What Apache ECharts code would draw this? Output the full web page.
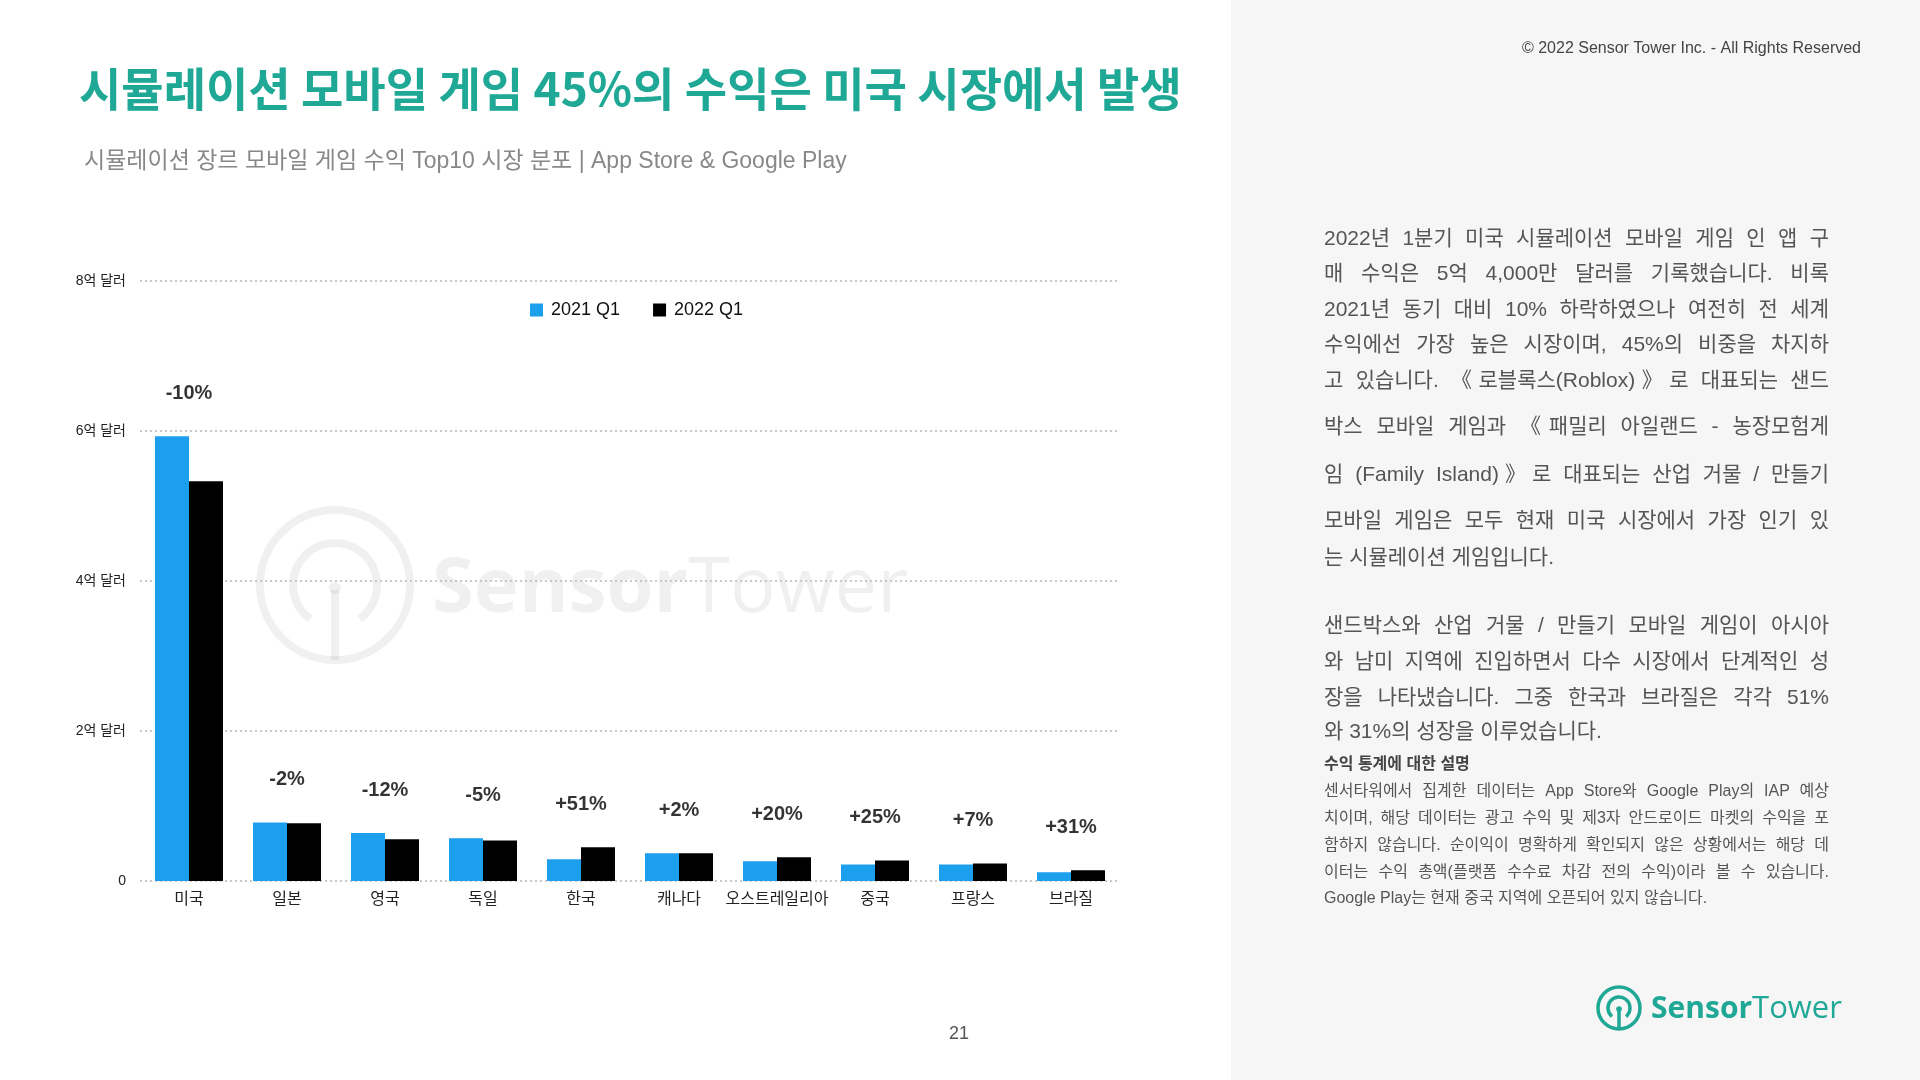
<!DOCTYPE html>
<html>
<head>
<meta charset="utf-8">
<script src="https://cdn.jsdelivr.net/npm/echarts@6/dist/echarts.min.js"></script>
<style>
  html, body { margin: 0; padding: 0; background: #fff; }
  #page { position: relative; width: 1920px; height: 1080px; overflow: hidden; background: #fff; }
  #side { position: absolute; left: 1231px; top: 0; width: 689px; height: 1080px; background: #f6f6f6; }
  #chart { position: absolute; left: 0; top: 0; width: 1920px; height: 1080px; }
  .ln { position: absolute; left: 1324px; width: 505px; white-space: nowrap;
        font-family: "Liberation Sans", "Noto Sans CJK KR", sans-serif; color: #555;
        text-align: justify; text-align-last: justify; }
  .big { font-size: 21px; height: 30px; line-height: 30px; }
  .small { font-size: 16px; height: 22px; line-height: 22px; }
  .last { text-align-last: left; }
  .head { font-weight: bold; color: #444; }
</style>
</head>
<body>
<div id="page">
  <div id="side"></div>
  <div id="chart"></div>
  <div id="text"></div>
</div>
<script>
// 시뮬레이션 장르 모바일 게임 수익 Top10 (단위: 억 달러)
const categories = ['미국', '일본', '영국', '독일', '한국', '캐나다', '오스트레일리아', '중국', '프랑스', '브라질']
const q2021 = [5.93, 0.78, 0.64, 0.57, 0.29, 0.37, 0.265, 0.22, 0.22, 0.116]
const q2022 = [5.33, 0.77, 0.556, 0.54, 0.45, 0.37, 0.317, 0.275, 0.235, 0.143]
const changes = ['-10%', '-2%', '-12%', '-5%', '+51%', '+2%', '+20%', '+25%', '+7%', '+31%']
const seriesNames = ['2021 Q1', '2022 Q1']
const unit = '억 달러'

// 오른쪽 설명 텍스트 (줄 단위)
const para1 = [
  '2022년 1분기 미국 시뮬레이션 모바일 게임 인 앱 구',
  '매 수익은 5억 4,000만 달러를 기록했습니다. 비록',
  '2021년 동기 대비 10% 하락하였으나 여전히 전 세계',
  '수익에선 가장 높은 시장이며, 45%의 비중을 차지하',
  '고 있습니다. 《로블록스(Roblox)》로 대표되는 샌드',
  '박스 모바일 게임과 《패밀리 아일랜드 - 농장모험게',
  '임 (Family Island)》로 대표되는 산업 거물 / 만들기',
  '모바일 게임은 모두 현재 미국 시장에서 가장 인기 있',
  '는 시뮬레이션 게임입니다.'
]
const para2 = [
  '샌드박스와 산업 거물 / 만들기 모바일 게임이 아시아',
  '와 남미 지역에 진입하면서 다수 시장에서 단계적인 성',
  '장을 나타냈습니다. 그중 한국과 브라질은 각각 51%',
  '와 31%의 성장을 이루었습니다.'
]
const noteTitle = '수익 통계에 대한 설명'
const note = [
  '센서타워에서 집계한 데이터는 App Store와 Google Play의 IAP 예상',
  '치이며, 해당 데이터는 광고 수익 및 제3자 안드로이드 마켓의 수익을 포',
  '함하지 않습니다. 순이익이 명확하게 확인되지 않은 상황에서는 해당 데',
  '이터는 수익 총액(플랫폼 수수료 차감 전의 수익)이라 볼 수 있습니다.',
  'Google Play는 현재 중국 지역에 오픈되어 있지 않습니다.'
]

// 라벨 위치용: 두 막대 중 높은 값
const maxVals = q2021.map((v, i) => Math.max(v, q2022[i]))

// 텍스트 줄 배치
const text = document.getElementById('text')
function addLine(str, y, cls) {
  const d = document.createElement('div')
  d.className = 'ln ' + cls
  d.textContent = str
  const h = cls.indexOf('small') >= 0 ? 22 : 30
  d.style.top = (y - h / 2) + 'px'
  text.appendChild(d)
}
const p1Y = [238, 273, 309, 344, 380, 426, 474, 520, 557]
para1.forEach((s, i) => addLine(s, p1Y[i], 'big' + (i == para1.length - 1 ? ' last' : '')))
const p2Y = [625, 661, 697, 731]
para2.forEach((s, i) => addLine(s, p2Y[i], 'big' + (i == para2.length - 1 ? ' last' : '')))
addLine(noteTitle, 764, 'small head last')
const nY = [791, 818, 845, 872, 898]
note.forEach((s, i) => addLine(s, nY[i], 'small' + (i == note.length - 1 ? ' last' : '')))

const teal = '#1fa896'
const font = '"Liberation Sans", "Noto Sans CJK KR", sans-serif'
const chart = echarts.init(document.getElementById('chart'), null, { renderer: 'canvas' })

var option = {
  backgroundColor: 'transparent',
  animation: false,
  title: [{
    text: '시뮬레이션 모바일 게임 45%의 수익은 미국 시장에서 발생',
    left: 74,
    top: 55,
    textStyle: { fontFamily: '"Noto Sans CJK KR", sans-serif', fontSize: 46, fontWeight: 'bold', color: teal, lineHeight: 58 }
  }, {
    text: '시뮬레이션 장르 모바일 게임 수익 Top10 시장 분포 | App Store & Google Play',
    left: 79,
    top: 142,
    textStyle: { fontFamily: font, fontSize: 23, fontWeight: 'normal', color: '#888', lineHeight: 30 }
  }],
  legend: {
    data: seriesNames,
    left: 525,
    top: 296,
    itemWidth: 13,
    itemHeight: 13,
    itemGap: 33,
    icon: 'rect',
    textStyle: { fontFamily: font, fontSize: 18, color: '#111', padding: [0, 0, 0, 3] }
  },
  grid: { left: 140, right: 800, top: 281, bottom: 199 },
  xAxis: {
    type: 'category',
    data: categories,
    axisLine: { show: false },
    axisTick: { show: false },
    axisLabel: { interval: 0, fontFamily: font, fontSize: 16, color: '#222', margin: 11 }
  },
  yAxis: {
    type: 'value',
    min: 0,
    max: 8,
    interval: 2,
    axisLine: { show: false },
    axisTick: { show: false },
    axisLabel: {
      fontFamily: font, fontSize: 14, color: '#222', margin: 14,
      formatter: v => v == 0 ? '0' : v + unit
    },
    splitLine: { show: true, lineStyle: { color: '#b8b8b8', width: 1.5, type: [2, 3] } }
  },
  graphic: [
    // 워터마크
    {
      type: 'group', z: 0, silent: true,
      children: [
        { type: 'circle', shape: { cx: 335, cy: 585, r: 75 }, style: { fill: 'none', stroke: 'rgba(0,0,0,0.06)', lineWidth: 8 } },
        { type: 'arc', shape: { cx: 335, cy: 585, r: 42, startAngle: Math.PI * 0.7, endAngle: Math.PI * 2.3, clockwise: true }, style: { fill: 'none', stroke: 'rgba(0,0,0,0.06)', lineWidth: 8 } },
        { type: 'line', shape: { x1: 335, y1: 590, x2: 335, y2: 660 }, style: { stroke: 'rgba(0,0,0,0.06)', lineWidth: 8 } },
        { type: 'circle', shape: { cx: 335, cy: 588, r: 6 }, style: { fill: 'rgba(0,0,0,0.06)' } },
        {
          type: 'text', x: 432, y: 590,
          style: {
            text: '{a|Sensor}{b|Tower}', verticalAlign: 'middle',
            rich: {
              a: { fontFamily: '"Open Sans", sans-serif', fontSize: 76, fontWeight: 'bold', fill: 'rgba(0,0,0,0.06)' },
              b: { fontFamily: '"Open Sans", sans-serif', fontSize: 76, fontWeight: 'normal', fill: 'rgba(0,0,0,0.06)' }
            }
          }
        }
      ]
    },
    // 저작권
    {
      type: 'text', right: 59, top: 41, z: 10,
      style: { text: '© 2022 Sensor Tower Inc. - All Rights Reserved', fontFamily: font, fontSize: 16, fill: '#444' }
    },
    // 페이지 번호
    {
      type: 'text', left: 949, top: 1025, z: 10,
      style: { text: '21', fontFamily: font, fontSize: 18, fill: '#555' }
    },
    // 로고
    {
      type: 'group', z: 10, silent: true,
      children: [
        { type: 'circle', shape: { cx: 1619, cy: 1008, r: 21 }, style: { fill: 'none', stroke: teal, lineWidth: 3.5 } },
        { type: 'arc', shape: { cx: 1619, cy: 1008, r: 11, startAngle: Math.PI * 0.72, endAngle: Math.PI * 2.28, clockwise: true }, style: { fill: 'none', stroke: teal, lineWidth: 3.5 } },
        { type: 'line', shape: { x1: 1619, y1: 1009, x2: 1619, y2: 1029 }, style: { stroke: teal, lineWidth: 3.5 } },
        { type: 'circle', shape: { cx: 1619, cy: 1009, r: 2.8 }, style: { fill: teal } },
        {
          type: 'text', x: 1651, y: 1009,
          style: {
            text: '{a|Sensor}{b|Tower}', verticalAlign: 'middle',
            rich: {
              a: { fontFamily: '"Open Sans", sans-serif', fontSize: 30, fontWeight: 'bold', fill: teal },
              b: { fontFamily: '"Open Sans", sans-serif', fontSize: 31, fontWeight: 'normal', fill: teal }
            }
          }
        }
      ]
    }
  ],
  series: [{
    name: seriesNames[0],
    type: 'bar',
    data: q2021,
    barWidth: 34,
    barGap: '0%',
    itemStyle: { color: '#1c9fec' }
  }, {
    name: seriesNames[1],
    type: 'bar',
    data: q2022,
    barWidth: 34,
    barGap: '0%',
    itemStyle: { color: '#000' }
  }, {
    name: 'change',
    type: 'scatter',
    data: maxVals,
    symbolSize: 0,
    silent: true,
    label: {
      show: true,
      position: 'top',
      distance: 33,
      formatter: p => changes[p.dataIndex],
      fontFamily: font,
      fontSize: 20,
      fontWeight: 'bold',
      color: '#000'
    }
  }]
}
chart.setOption(option)
</script>
</body>
</html>
